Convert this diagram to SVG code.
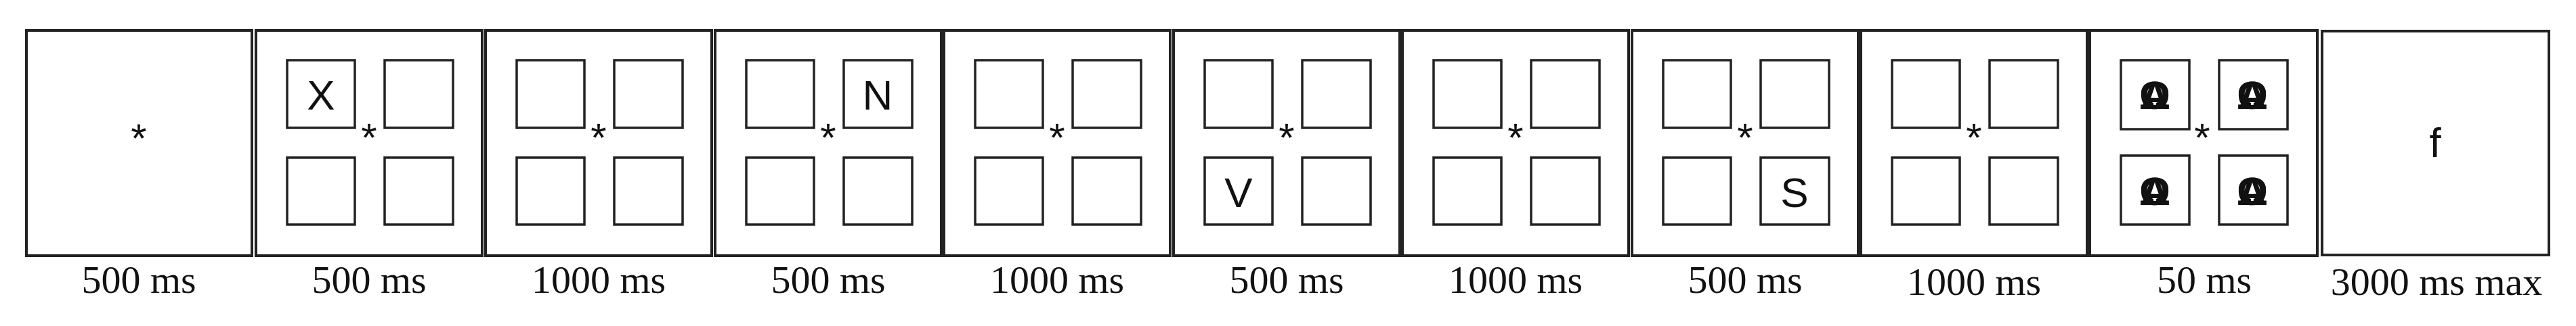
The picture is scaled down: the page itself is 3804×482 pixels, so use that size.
<svg xmlns="http://www.w3.org/2000/svg" width="3804" height="482" viewBox="0 0 3804 482">
<style>
.p{fill:#fff;stroke:#222;stroke-width:4}
.b{fill:none;stroke:#222;stroke-width:3.5}
.l{font-family:"Liberation Sans",Arial,sans-serif;font-size:62px;fill:#111;text-anchor:middle}
.s{font-family:"Liberation Sans",Arial,sans-serif;font-size:60px;fill:#111;text-anchor:middle}
.t{font-family:"Liberation Serif","Times New Roman",serif;font-size:58px;fill:#111;text-anchor:middle}
.m{font-family:"Liberation Sans",Arial,sans-serif;font-size:58px;fill:#111;text-anchor:middle;font-weight:bold}
</style>
<defs>
<g id="quad">
<rect class="b" x="46" y="45" width="100" height="100"/>
<rect class="b" x="190" y="45" width="101" height="100"/>
<rect class="b" x="46" y="189" width="100" height="99"/>
<rect class="b" x="190" y="189" width="101" height="99"/>
<text class="s" x="167" y="180">*</text>
</g>
<g id="mask">
<text class="m" x="0" y="21">A</text>
<text class="m" x="0" y="21">O</text>
<text class="m" x="0" y="21" font-weight="normal">Ω</text>
</g>
</defs>
<g id="p1"><rect class="p" x="39" y="45" width="333" height="333"/><text class="s" x="205" y="225">*</text><text class="t" x="205" y="433">500 ms</text></g>
<g id="p2" transform="translate(378,44)"><rect class="p" x="0" y="1" width="334" height="333"/><use href="#quad"/><text class="l" x="96" y="118">X</text></g>
<text class="t" x="545" y="433">500 ms</text>
<g id="p3" transform="translate(717,44)"><rect class="p" x="0" y="1" width="334" height="333"/><use href="#quad"/></g>
<text class="t" x="884" y="433">1000 ms</text>
<g id="p4" transform="translate(1056,44)"><rect class="p" x="0" y="1" width="334" height="333"/><use href="#quad"/><text class="l" x="240" y="118">N</text></g>
<text class="t" x="1223" y="433">500 ms</text>
<g id="p5" transform="translate(1394,44)"><rect class="p" x="0" y="1" width="334" height="333"/><use href="#quad"/></g>
<text class="t" x="1561" y="433">1000 ms</text>
<g id="p6" transform="translate(1733,44)"><rect class="p" x="0" y="1" width="334" height="333"/><use href="#quad"/><text class="l" x="96" y="262">V</text></g>
<text class="t" x="1900" y="433">500 ms</text>
<g id="p7" transform="translate(2071,44)"><rect class="p" x="0" y="1" width="334" height="333"/><use href="#quad"/></g>
<text class="t" x="2238" y="433">1000 ms</text>
<g id="p8" transform="translate(2410,44)"><rect class="p" x="0" y="1" width="334" height="333"/><use href="#quad"/><text class="l" x="240" y="262">S</text></g>
<text class="t" x="2577" y="433">500 ms</text>
<g id="p9" transform="translate(2748,44)"><rect class="p" x="0" y="1" width="334" height="333"/><use href="#quad"/></g>
<text class="t" x="2915" y="436">1000 ms</text>
<g id="p10" transform="translate(3086,44)"><rect class="p" x="0" y="1" width="336" height="333"/>
<rect class="b" x="46" y="45" width="101" height="102"/><rect class="b" x="191" y="45" width="101" height="102"/>
<rect class="b" x="46" y="186" width="101" height="102"/><rect class="b" x="191" y="186" width="101" height="102"/>
<text class="s" x="166" y="180">*</text>
<use href="#mask" x="96" y="96"/><use href="#mask" x="240" y="96"/><use href="#mask" x="96" y="238"/><use href="#mask" x="240" y="238"/>
</g>
<text class="t" x="3255" y="433">50 ms</text>
<g id="p11"><rect class="p" x="3429" y="46" width="335" height="331"/><text class="l" x="3596" y="232">f</text><text class="t" x="3598" y="436">3000 ms max</text></g>
</svg>
